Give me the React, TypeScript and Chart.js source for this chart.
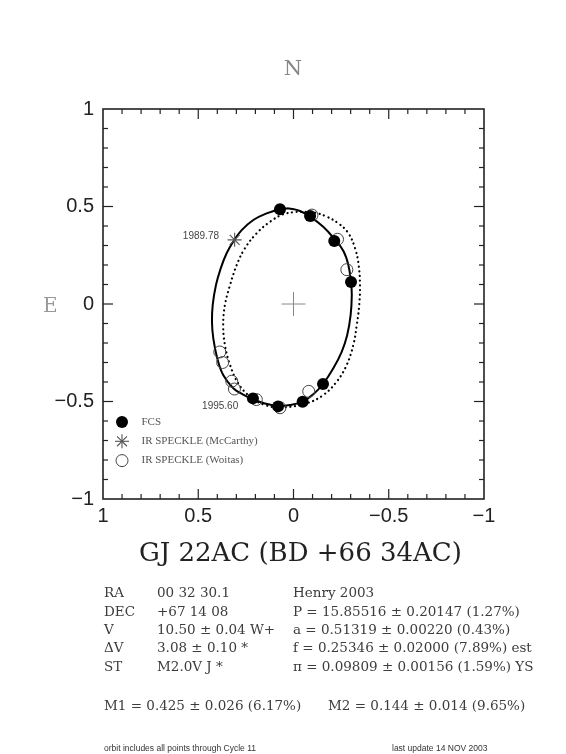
import React, { useEffect, useRef } from "react";
import { Chart, registerables } from "chart.js";

Chart.register(...registerables);

// ---- data ----
const fcsX = [0.071, -0.087, -0.214, -0.302, -0.155, -0.048, 0.081, 0.213];
const fcsY = [0.486, 0.451, 0.323, 0.113, -0.41, -0.501, -0.525, -0.484];

const mccarthyX = [0.309];
const mccarthyY = [0.329];

const woitasX = [-0.097, -0.231, -0.28, 0.387, 0.372, 0.324, 0.31, 0.195, 0.071, -0.08];
const woitasY = [0.456, 0.332, 0.176, -0.246, -0.3, -0.396, -0.436, -0.49, -0.532, -0.448];

const centerX = [0];
const centerY = [0];

const orbitX = [0.027, 0.071, 0.141, 0.211, 0.272, 0.311, 0.351, 0.382, 0.407, 0.424, 0.428, 0.421, 0.4, 0.369, 0.316, 0.264, 0.211, 0.15, 0.085, 0.018, -0.048, -0.104, -0.156, -0.209, -0.253, -0.282, -0.3, -0.306, -0.302, -0.288, -0.262, -0.216, -0.156, -0.087, -0.034, 0.027];
const orbitY = [0.491, 0.486, 0.465, 0.431, 0.379, 0.328, 0.26, 0.183, 0.097, -0.005, -0.091, -0.176, -0.279, -0.364, -0.432, -0.465, -0.49, -0.51, -0.523, -0.518, -0.501, -0.463, -0.409, -0.33, -0.245, -0.159, -0.056, 0.046, 0.111, 0.2, 0.272, 0.332, 0.396, 0.448, 0.477, 0.491];

const oldOrbitX = [-0.017, 0.054, 0.123, 0.193, 0.255, 0.298, 0.333, 0.36, 0.369, 0.36, 0.333, 0.29, 0.228, 0.15, 0.06, -0.069, -0.156, -0.227, -0.279, -0.314, -0.332, -0.345, -0.349, -0.342, -0.323, -0.288, -0.235, -0.174, -0.104, -0.017];
const oldOrbitY = [0.473, 0.46, 0.422, 0.363, 0.286, 0.2, 0.097, -0.005, -0.108, -0.21, -0.313, -0.407, -0.475, -0.518, -0.53, -0.509, -0.467, -0.398, -0.313, -0.21, -0.108, -0.005, 0.097, 0.2, 0.286, 0.363, 0.414, 0.448, 0.47, 0.473];

const epochLabels = ["1989.78", "1995.60"];
const epochX = [0.391, 0.385];
const epochY = [0.345, -0.523];
const epochAlign = ["right", "center"];

const legendLabels = ["FCS", "IR SPECKLE (McCarthy)", "IR SPECKLE (Woitas)"];
const legendStyles = ["fill", "star", "open"];

const tickMin = -1;
const tickMax = 1;
const tickStep = 0.1;

const infoLabels = ["RA", "DEC", "V", "\u0394V", "ST"];
const infoValues = ["00 32 30.1", "+67 14 08", "10.50 \u00b1 0.04 W+", "3.08 \u00b1 0.10 *", "M2.0V J *"];
const infoFits = [
  "Henry 2003",
  "P = 15.85516 \u00b1 0.20147 (1.27%)",
  "a = 0.51319 \u00b1 0.00220 (0.43%)",
  "f = 0.25346 \u00b1 0.02000 (7.89%) est",
  "\u03c0 = 0.09809 \u00b1 0.00156 (1.59%) YS",
];
const massTexts = ["M1 = 0.425 \u00b1 0.026 (6.17%)", "M2 = 0.144 \u00b1 0.014 (9.65%)"];
const footerTexts = ["orbit includes all points through Cycle 11", "last update 14 NOV 2003"];

const titleText = "GJ 22AC (BD +66 34AC)";

const zip = (xs: number[], ys: number[]) => xs.map((x, i) => ({ x, y: ys[i] }));

const isMajor = (v: number) => Math.abs(v * 2 - Math.round(v * 2)) < 1e-6;
const fmtTick = (v: number) => {
  if (!isMajor(v)) return "";
  const r = Math.round(v * 2) / 2;
  if (r === 0) return "0";
  const s = String(Math.abs(r));
  return r < 0 ? "\u2212" + s : s;
};

const framePlugin = {
  id: "frameTicks",
  afterDraw(chart: any) {
    const { ctx, chartArea: a, scales } = chart;
    const x = scales.x;
    const y = scales.y;
    ctx.save();
    ctx.strokeStyle = "#222";
    ctx.lineWidth = 1.2;
    const line = (x1: number, y1: number, x2: number, y2: number) => {
      ctx.beginPath();
      ctx.moveTo(x1, y1);
      ctx.lineTo(x2, y2);
      ctx.stroke();
    };
    x.ticks.forEach((t: any) => {
      if (Math.abs(Math.abs(t.value) - 1) < 1e-6) return;
      const px = x.getPixelForValue(t.value);
      const L = isMajor(t.value) ? 10 : 5;
      line(px, a.bottom, px, a.bottom - L);
      line(px, a.top, px, a.top + L);
    });
    y.ticks.forEach((t: any) => {
      if (Math.abs(Math.abs(t.value) - 1) < 1e-6) return;
      const py = y.getPixelForValue(t.value);
      const L = isMajor(t.value) ? 10 : 5;
      line(a.left, py, a.left + L, py);
      line(a.right, py, a.right - L, py);
    });
    ctx.lineWidth = 1.6;
    ctx.strokeRect(a.left, a.top, a.right - a.left, a.bottom - a.top);

    // epoch annotations
    ctx.fillStyle = "#444";
    ctx.font = '10px "Liberation Sans"';
    ctx.textBaseline = "middle";
    epochLabels.forEach((lab, i) => {
      ctx.textAlign = epochAlign[i];
      ctx.fillText(lab, x.getPixelForValue(epochX[i]), y.getPixelForValue(epochY[i]));
    });

    // legend
    const lx = a.left + 19;
    const ty = a.bottom - 77;
    legendLabels.forEach((lab, i) => {
      const cy = ty + i * 19.3;
      const st = legendStyles[i];
      if (st === "fill") {
        ctx.fillStyle = "#000";
        ctx.beginPath();
        ctx.arc(lx, cy, 6, 0, Math.PI * 2);
        ctx.fill();
      } else if (st === "open") {
        ctx.strokeStyle = "#444";
        ctx.lineWidth = 1;
        ctx.beginPath();
        ctx.arc(lx, cy, 6, 0, Math.PI * 2);
        ctx.stroke();
      } else {
        ctx.strokeStyle = "#555";
        ctx.lineWidth = 1.1;
        for (let k = 0; k < 4; k++) {
          const ang = (k * Math.PI) / 4;
          line(lx - 7 * Math.cos(ang), cy - 7 * Math.sin(ang), lx + 7 * Math.cos(ang), cy + 7 * Math.sin(ang));
        }
      }
      ctx.fillStyle = "#555";
      ctx.font = '11px "Liberation Serif"';
      ctx.textAlign = "left";
      ctx.textBaseline = "middle";
      ctx.fillText(lab, lx + 19.5, cy);
    });
    ctx.restore();
  },
};

const tickFont = { family: '"Liberation Sans"', size: 20 };

export default function App() {
  const ref = useRef<HTMLCanvasElement>(null);
  useEffect(() => {
    const chart = new Chart(ref.current as HTMLCanvasElement, {
      type: "scatter",
      data: {
        datasets: [
          {
            label: "FCS",
            data: zip(fcsX, fcsY),
            pointStyle: "circle",
            pointRadius: 6,
            backgroundColor: "#000",
            borderColor: "#000",
            borderWidth: 0,
          },
          {
            label: "IR SPECKLE (McCarthy)",
            data: zip(mccarthyX, mccarthyY),
            pointStyle: "star",
            pointRadius: 7,
            borderColor: "#555",
            borderWidth: 1.1,
          },
          {
            label: "IR SPECKLE (Woitas)",
            data: zip(woitasX, woitasY),
            pointStyle: "circle",
            pointRadius: 6,
            backgroundColor: "rgba(0,0,0,0)",
            borderColor: "#444",
            borderWidth: 1,
          },
          {
            label: "center",
            data: zip(centerX, centerY),
            pointStyle: "cross",
            pointRadius: 12,
            borderColor: "#888",
            borderWidth: 1,
          },
          {
            label: "orbit",
            data: zip(orbitX, orbitY),
            showLine: true,
            pointRadius: 0,
            borderColor: "#000",
            borderWidth: 2,
            tension: 0.4,
            fill: false,
          },
          {
            label: "previous orbit",
            data: zip(oldOrbitX, oldOrbitY),
            showLine: true,
            pointRadius: 0,
            borderColor: "#000",
            borderWidth: 2.2,
            borderDash: [0.1, 4.6],
            borderCapStyle: "round",
            tension: 0.4,
            fill: false,
          },
        ],
      } as any,
      options: {
        responsive: false,
        devicePixelRatio: 1,
        animation: false,
        events: [],
        layout: { padding: { left: 0, top: 109, right: 82, bottom: 215 } },
        plugins: { legend: { display: false }, tooltip: { enabled: false } },
        scales: {
          x: {
            type: "linear",
            reverse: true,
            min: tickMin,
            max: tickMax,
            afterFit: (s: any) => {
              s.height = 40;
            },
            grid: { display: false, drawTicks: false },
            border: { display: false },
            ticks: {
              stepSize: tickStep,
              autoSkip: false,
              maxRotation: 0,
              minRotation: 0,
              padding: 5,
              color: "#222",
              font: tickFont,
              callback: (v: any) => fmtTick(Number(v)),
            },
          },
          y: {
            type: "linear",
            min: tickMin,
            max: tickMax,
            afterFit: (s: any) => {
              s.width = 103;
            },
            grid: { display: false, drawTicks: false },
            border: { display: false },
            ticks: {
              stepSize: tickStep,
              autoSkip: false,
              padding: 9,
              color: "#222",
              font: tickFont,
              callback: (v: any) => fmtTick(Number(v)),
            },
          },
        },
      } as any,
      plugins: [framePlugin],
    });
    return () => chart.destroy();
  }, []);

  const abs = (left: number, top: number, extra: any = {}) => ({
    position: "absolute" as const,
    left,
    top,
    transform: "translateY(-50%)",
    whiteSpace: "pre" as const,
    lineHeight: 1,
    ...extra,
  });
  const info = { fontFamily: '"DejaVu Serif"', fontSize: 13.5, color: "#3c3c3c" };
  const rowYs = [593, 612, 630, 648, 667];

  return (
    <div style={{ position: "absolute", left: 0, top: 0, width: 566, height: 754, background: "#fff", overflow: "hidden" }}>
      <canvas ref={ref} width={566} height={754} style={{ position: "absolute", left: 0, top: 0, width: 566, height: 754 }} />
      <div style={abs(0, 68, { width: 586, textAlign: "center", fontFamily: '"DejaVu Serif"', fontSize: 21, color: "#888" })}>N</div>
      <div style={abs(43, 305, { fontFamily: '"DejaVu Serif"', fontSize: 20, color: "#999" })}>E</div>
      <div style={abs(139, 552, { fontFamily: '"DejaVu Serif"', fontSize: 26, color: "#222" })}>{titleText}</div>
      {infoLabels.map((t, i) => (
        <div key={"l" + i} style={abs(104, rowYs[i], info)}>{t}</div>
      ))}
      {infoValues.map((t, i) => (
        <div key={"v" + i} style={abs(157, rowYs[i], info)}>{t}</div>
      ))}
      {infoFits.map((t, i) => (
        <div key={"f" + i} style={abs(293, rowYs[i], info)}>{t}</div>
      ))}
      <div style={abs(104, 706, info)}>{massTexts[0]}</div>
      <div style={abs(328, 706, info)}>{massTexts[1]}</div>
      <div style={abs(104, 748, { fontFamily: '"Liberation Sans"', fontSize: 8.5, color: "#333" })}>{footerTexts[0]}</div>
      <div style={abs(392, 748, { fontFamily: '"Liberation Sans"', fontSize: 8.5, color: "#333" })}>{footerTexts[1]}</div>
    </div>
  );
}
